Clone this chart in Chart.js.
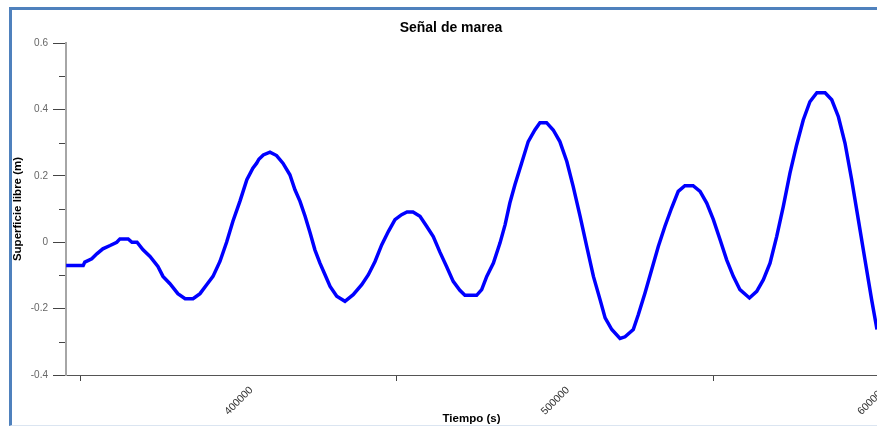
<!DOCTYPE html>
<html>
<head>
<meta charset="utf-8">
<script src="https://cdn.jsdelivr.net/npm/chart.js@4.4.1/dist/chart.umd.min.js"></script>
<style>
  html, body { margin: 0; padding: 0; background: #fff; }
  #wrap { position: relative; width: 877px; height: 427px; overflow: hidden; }
  #frame {
    position: absolute; left: 9px; top: 7px; width: 868px; height: 419px;
    box-sizing: border-box;
    border-left: 3px solid #4f81bd; border-top: 3px solid #4f81bd;
    border-bottom: 1px solid #dbe5f1;
  }
  #tideChart { position: absolute; left: 0; top: 0; z-index: 1; }
</style>
</head>
<body>
<div id="wrap">
  <div id="frame"></div>
  <canvas id="tideChart" width="877" height="427"></canvas>
</div>
<script>
const tiempo = [
  345600, 351000, 351500, 353700, 355300, 357200, 359500, 361600, 362600, 365200,
  366400, 368000, 369900, 372100, 374600, 376200, 378400, 380900, 383200, 385700,
  387900, 390000, 392000, 394200, 396300, 398300, 400500, 402700, 404600, 405800,
  406500, 407900, 410000, 412100, 414100, 416300, 417900, 419500, 421100, 422700,
  424200, 425800, 427400, 429000, 431100, 433700, 436300, 439000, 441100, 443200,
  445300, 447400, 449500, 451600, 453300, 455200, 457400, 459500, 461600, 463700,
  465800, 467900, 470000, 471600, 475300, 476900, 478500, 480600, 482700, 484300,
  485800, 487400, 489500, 491600, 493700, 495300, 497400, 499500, 501600, 503800,
  505800, 508000, 510100, 512200, 514300, 515900, 518000, 520600, 522200, 524800,
  526400, 528500, 530600, 532700, 534800, 536900, 539000, 541100, 543700, 545900,
  548000, 550100, 552200, 554300, 556400, 558500, 561500, 563800, 565900, 568000,
  570100, 572200, 574300, 576400, 578500, 580600, 582800, 585400, 587500, 589600,
  591700, 593800, 595900, 598000, 600100, 601800, 603000,
];
const superficie = [
  -0.07, -0.07, -0.06, -0.05, -0.035, -0.02, -0.01, 0.0, 0.01, 0.01,
  0.0, 0.0, -0.023, -0.043, -0.073, -0.103, -0.125, -0.155, -0.17, -0.17,
  -0.155, -0.128, -0.103, -0.058, 0.0, 0.063, 0.123, 0.188, 0.223, 0.238,
  0.25, 0.263, 0.271, 0.261, 0.238, 0.203, 0.158, 0.123, 0.078, 0.028,
  -0.023, -0.063, -0.098, -0.133, -0.163, -0.178, -0.158, -0.128, -0.098, -0.058,
  -0.008, 0.032, 0.068, 0.083, 0.091, 0.091, 0.078, 0.048, 0.017, -0.03,
  -0.073, -0.118, -0.145, -0.16, -0.16, -0.143, -0.103, -0.063, -0.002, 0.053,
  0.118, 0.173, 0.238, 0.303, 0.338, 0.36, 0.36, 0.338, 0.303, 0.243,
  0.168, 0.078, -0.013, -0.103, -0.173, -0.228, -0.263, -0.29, -0.285, -0.263,
  -0.218, -0.153, -0.083, -0.013, 0.048, 0.103, 0.153, 0.17, 0.17, 0.153,
  0.118, 0.068, 0.008, -0.053, -0.103, -0.143, -0.168, -0.148, -0.113, -0.063,
  0.017, 0.108, 0.208, 0.293, 0.368, 0.423, 0.45, 0.45, 0.429, 0.378,
  0.298, 0.188, 0.068, -0.053, -0.173, -0.263, -0.33,
];
const xTicks = [350000, 400000, 450000, 500000, 550000, 600000];
const xLabelTicks = [400000, 500000, 600000];
const yTicks = [-0.4, -0.3, -0.2, -0.1, 0, 0.1, 0.2, 0.3, 0.4, 0.5, 0.6];
const yLabelTicks = [-0.4, -0.2, 0, 0.2, 0.4, 0.6];
const titulo = "Señal de marea";

const fontFamily = "Liberation Sans, Arial, sans-serif";
const isYLabel = (v) => yLabelTicks.some((l) => Math.abs(l - v) < 1e-6);

// short marks for the unlabelled y ticks
const minorTicks = {
  id: "minorTicks",
  afterDraw(chart) {
    const y = chart.scales.y;
    const c = chart.ctx;
    c.save();
    c.strokeStyle = "#444";
    c.lineWidth = 1;
    yTicks.forEach((v) => {
      if (isYLabel(v)) return;
      const py = Math.round(y.getPixelForValue(v)) + 0.5;
      c.beginPath();
      c.moveTo(y.right - 7, py);
      c.lineTo(y.right - 1, py);
      c.stroke();
    });
    c.restore();
  },
};

// title sits a bit right of the canvas centre in the original
const chartTitle = {
  id: "chartTitle",
  afterDraw(chart) {
    const c = chart.ctx;
    c.save();
    c.fillStyle = "#000";
    c.font = "bold 14px " + fontFamily;
    c.textAlign = "center";
    c.textBaseline = "middle";
    c.fillText(titulo, 451, 28.5);
    c.restore();
  },
};

const ctx = document.getElementById("tideChart").getContext("2d");
const tideChart = new Chart(ctx, {
  type: "line",
  data: {
    datasets: [
      {
        data: tiempo.map((t, i) => ({ x: t, y: superficie[i] })),
        borderColor: "#0000ff",
        borderWidth: 3.5,
        pointRadius: 0,
        tension: 0,
        fill: false,
      },
    ],
  },
  options: {
    responsive: false,
    animation: false,
    layout: { padding: { top: 43, left: 0, right: 0, bottom: 0 } },
    plugins: {
      legend: { display: false },
      tooltip: { enabled: false },
      title: { display: false },
    },
    scales: {
      x: {
        type: "linear",
        min: 345560,
        max: 601800,
        afterBuildTicks: (scale) => {
          scale.ticks = xTicks.map((v) => ({ value: v }));
        },
        afterFit: (scale) => {
          scale.height = 52;
          scale.paddingLeft = 0;
          scale.paddingRight = 0;
        },
        ticks: {
          autoSkip: false,
          minRotation: 45,
          maxRotation: 45,
          labelOffset: 13,
          padding: 3,
          color: "#333",
          font: { family: fontFamily, size: 10.5 },
          callback: (v) => (xLabelTicks.includes(v) ? String(v) : ""),
        },
        grid: {
          drawOnChartArea: false,
          drawTicks: true,
          tickLength: 6,
          tickColor: (c) => (c.tick && xLabelTicks.includes(c.tick.value) ? "rgba(0,0,0,0)" : "#444"),
        },
        border: { display: true, color: "#555", width: 1 },
        title: {
          display: true,
          text: "Tiempo (s)",
          color: "#000",
          font: { family: fontFamily, size: 11.5, weight: "bold" },
          padding: { top: 0, bottom: 1.6 },
        },
      },
      y: {
        min: -0.4,
        max: 0.6,
        afterBuildTicks: (scale) => {
          scale.ticks = yTicks.map((v) => ({ value: v }));
        },
        afterFit: (scale) => {
          scale.width = 66;
        },
        ticks: {
          autoSkip: false,
          padding: 5,
          color: "#666",
          font: { family: fontFamily, size: 10 },
          callback: (v) => (isYLabel(v) ? String(Math.round(v * 10) / 10) : ""),
        },
        grid: {
          drawOnChartArea: false,
          drawTicks: true,
          tickLength: 13,
          tickColor: (c) => (c.tick && isYLabel(c.tick.value) ? "#444" : "rgba(0,0,0,0)"),
        },
        border: { display: true, color: "#a6a6a6", width: 2 },
        title: {
          display: true,
          text: "Superficie libre (m)",
          color: "#000",
          font: { family: fontFamily, size: 11.5, weight: "bold" },
          padding: { top: 10.5, bottom: 0 },
        },
      },
    },
  },
  plugins: [minorTicks, chartTitle],
});
</script>
</body>
</html>
